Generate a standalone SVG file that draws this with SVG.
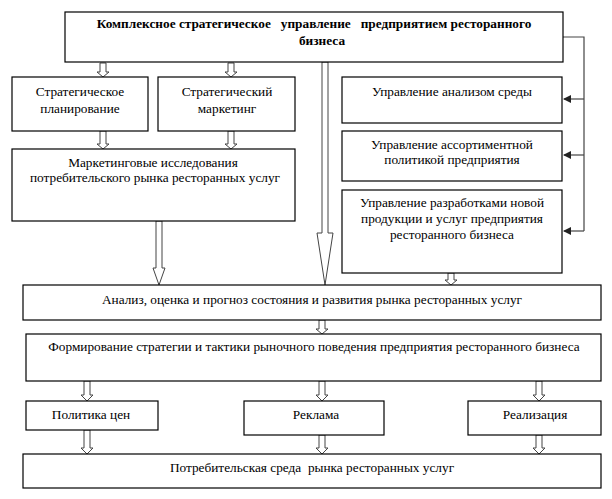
<svg xmlns="http://www.w3.org/2000/svg" width="612" height="499" viewBox="0 0 612 499">
<style>
.b{fill:#fff;stroke:#000;stroke-width:1.2}
.t{font-family:"Liberation Serif","Times New Roman",serif;font-size:13.3px;fill:#000;text-anchor:middle}
.tb{font-weight:bold;white-space:pre}
.ha{fill:#fff;stroke:#444;stroke-width:1}
.fl{fill:none;stroke:#444;stroke-width:1.2}
</style>
<defs>
<marker id="ah" markerWidth="8" markerHeight="8" refX="7" refY="4" orient="auto" markerUnits="userSpaceOnUse">
<path d="M0,0 L8,4 L0,8 Z" fill="#222"/>
</marker>
</defs>
<rect width="612" height="499" fill="#fff"/>
<g id="connectors">
<path class="fl" d="M563,37 H584 V231"/>
<path class="fl" d="M584,99 H564" marker-end="url(#ah)"/>
<path class="fl" d="M584,155 H564" marker-end="url(#ah)"/>
<path class="fl" d="M584,231 H564" marker-end="url(#ah)"/>
<path class="ha" d="M100,63 H106 V72 H109 L103,77 L97,72 H100 Z"/>
<path class="ha" d="M228,63 H234 V72 H237 L231,77 L225,72 H228 Z"/>
<path class="ha" d="M100,131 H106 V144 H109 L103,149 L97,144 H100 Z"/>
<path class="ha" d="M228,131 H234 V144 H237 L231,149 L225,144 H228 Z"/>
<path class="ha" d="M156,221 H162 V268 H165 L159,285 L153,268 H156 Z"/>
<path class="ha" d="M322,62 H328 V233 H333 L325,285 L317,233 H322 Z"/>
<path class="ha" d="M448,273 H454 V280 H457 L451,285 L445,280 H448 Z"/>
<path class="ha" d="M319,320 H325 V329 H328 L322,334 L316,329 H319 Z"/>
<path class="ha" d="M84,381 H90 V395 H93 L87,401 L81,395 H84 Z"/>
<path class="ha" d="M319,381 H325 V395 H328 L322,401 L316,395 H319 Z"/>
<path class="ha" d="M536,381 H542 V395 H545 L539,401 L533,395 H536 Z"/>
<path class="ha" d="M84,430 H90 V448 H93 L87,454 L81,448 H84 Z"/>
<path class="ha" d="M319,435 H325 V448 H328 L322,454 L316,448 H319 Z"/>
<path class="ha" d="M536,435 H542 V448 H545 L539,454 L533,448 H536 Z"/>
</g>
<g id="top">
<rect class="b" x="65" y="12" width="498" height="50"/>
<text class="t tb" x="314" y="28" xml:space="preserve">Комплексное стратегическое   управление   предприятием ресторанного</text>
<text class="t tb" x="322" y="45">бизнеса</text>
</g>
<g id="plan">
<rect class="b" x="12" y="77" width="136" height="54"/>
<text class="t" x="80" y="96">Стратегическое</text>
<text class="t" x="80" y="113">планирование</text>
</g>
<g id="smark">
<rect class="b" x="158" y="77" width="137" height="54"/>
<text class="t" x="227" y="96">Стратегический</text>
<text class="t" x="227" y="113">маркетинг</text>
</g>
<g id="research">
<rect class="b" x="12" y="149" width="283" height="72"/>
<text class="t" x="153" y="167">Маркетинговые исследования</text>
<text class="t" x="155" y="182">потребительского рынка ресторанных услуг</text>
</g>
<g id="env">
<rect class="b" x="342" y="77" width="220" height="46"/>
<text class="t" x="452" y="96">Управление анализом среды</text>
</g>
<g id="assort">
<rect class="b" x="342" y="131" width="220" height="50"/>
<text class="t" x="452" y="149">Управление ассортиментной</text>
<text class="t" x="452" y="164">политикой предприятия</text>
</g>
<g id="newprod">
<rect class="b" x="342" y="190" width="220" height="83"/>
<text class="t" x="452" y="207">Управление разработками новой</text>
<text class="t" x="452" y="223">продукции и услуг предприятия</text>
<text class="t" x="452" y="239">ресторанного бизнеса</text>
</g>
<g id="analysis">
<rect class="b" x="23" y="285" width="578" height="35"/>
<text class="t" x="312" y="304">Анализ, оценка и прогноз состояния и развития рынка ресторанных услуг</text>
</g>
<g id="formation">
<rect class="b" x="26" y="334" width="575" height="47"/>
<text class="t" x="314" y="351">Формирование стратегии и тактики рыночного поведения предприятия ресторанного бизнеса</text>
</g>
<g id="price">
<rect class="b" x="26" y="401" width="132" height="29"/>
<text class="t" x="91" y="419">Политика цен</text>
</g>
<g id="ads">
<rect class="b" x="244" y="401" width="140" height="34"/>
<text class="t" x="316" y="419">Реклама</text>
</g>
<g id="sales">
<rect class="b" x="468" y="401" width="133" height="34"/>
<text class="t" x="535" y="419">Реализация</text>
</g>
<g id="consumer">
<rect class="b" x="23" y="454" width="578" height="34"/>
<text class="t" x="312" y="472" xml:space="preserve">Потребительская среда  рынка ресторанных услуг</text>
</g>
</svg>
